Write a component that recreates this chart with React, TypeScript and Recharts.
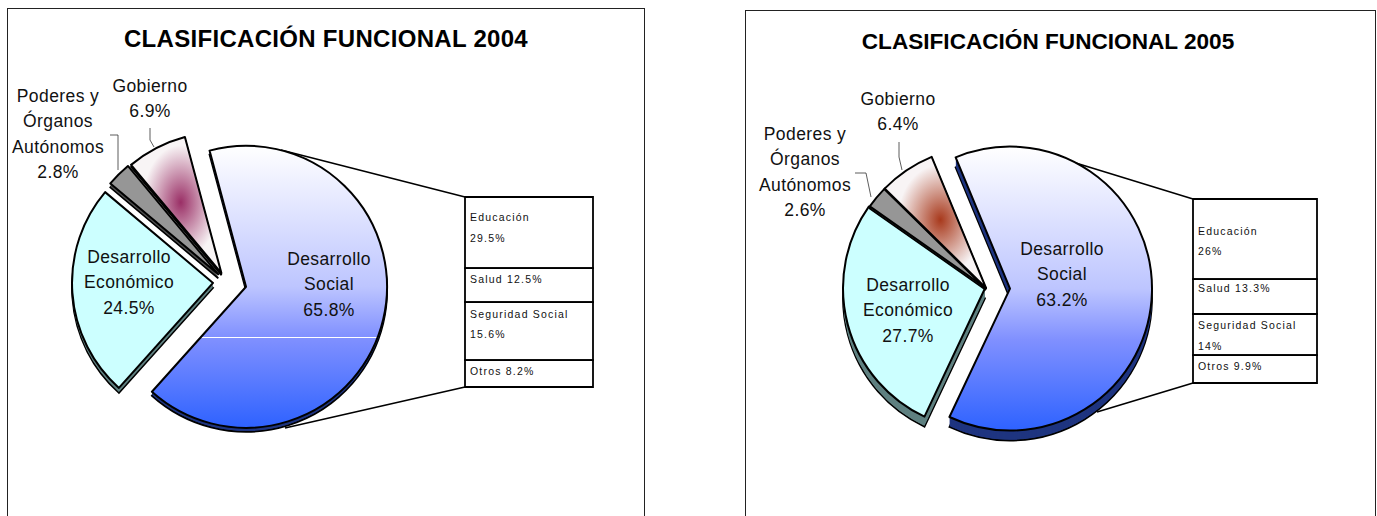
import { PieChart, Pie, Sector, BarChart, Bar, XAxis, YAxis } from "recharts";

const categorias = ["Desarrollo Social", "Desarrollo Económico", "Poderes y Órganos Autónomos", "Gobierno"];
const etiquetas = [["Desarrollo", "Social"], ["Desarrollo", "Económico"], ["Poderes y", "Órganos", "Autónomos"], ["Gobierno"]];
const valores2004 = [65.8, 24.5, 2.8, 6.9];
const valores2005 = [63.2, 27.7, 2.6, 6.4];

const rubros = ["Educación", "Salud", "Seguridad Social", "Otros"];
const rubros2004 = [29.5, 12.5, 15.6, 8.2];
const rubros2005 = [26, 13.3, 14, 9.9];
// alto de cada tramo de la columna (no es proporcional a la etiqueta)
const tramos2004 = [24.6, 11.8, 20.1, 9.3];
const tramos2005 = [27.5, 12, 14.1, 9.6];

const FONT = "'Liberation Sans', Arial, sans-serif";
const DARK = ["#1f3580", "#5f8080", "#4c4c4c", "#333333"];

const PANELS = [
    {
        id: "a", left: 0, frameX: 8, frameY: 9, frameW: 638,
        titulo: "CLASIFICACIÓN FUNCIONAL 2004", titleX: 326, titleY: 47, titleSize: 24, titleSpacing: 0.3,
        valores: valores2004, rubros: rubros2004, tramos: tramos2004,
        cx: 226, cy: 282, radius: 141, startAngle: 105,
        explode: [20.6, 13, 11, 10], depth: [4, 5, 4, 2],
        centro: "#9a2f66", whiteLine: true,
        labels: [
            { x: 329, y: 265 }, { x: 129, y: 263 }, { x: 58, y: 102 }, { x: 150, y: 92 },
        ],
        leaders: ["281,150 465,197", "285,428 465,387"],
        thin: ["150,128 150,140 154,147", "110,135 118,135 118,170"],
        box: { x: 465, y: 197, w: 128, h: 190 },
        textOffsets: [[24, 45], [15], [16, 36], [15]],
    },
    {
        id: "b", left: 737, frameX: 9, frameY: 11, frameW: 631,
        titulo: "CLASIFICACIÓN FUNCIONAL 2005", titleX: 311, titleY: 49, titleSize: 22.6, titleSpacing: 0,
        valores: valores2005, rubros: rubros2005, tramos: tramos2005,
        cx: 249, cy: 288, radius: 142, startAngle: 112.5,
        explode: [24, 1, 0, 0], depth: [10, 10, 2, 1],
        centro: "#a8391c", whiteLine: false,
        labels: [
            { x: 325, y: 255 }, { x: 171, y: 291 }, { x: 68, y: 140 }, { x: 161, y: 105 },
        ],
        leaders: ["303,152 456,199", "360,412 456,383"],
        thin: ["162,142 162,157 165,170", "118,173 129,173 134,197"],
        box: { x: 456, y: 199, w: 124, h: 184 },
        textOffsets: [[36, 56], [13], [15, 36], [15]],
    },
];

type Panel = (typeof PANELS)[number];

function ExplodedSlice(props: any, panel: Panel) {
    const i = props.payload?.i ?? props.i ?? 0;
    const rad = (props.midAngle * Math.PI) / 180;
    const cx = props.cx + panel.explode[i] * Math.cos(rad);
    const cy = props.cy - panel.explode[i] * Math.sin(rad);
    const base = {
        innerRadius: 0,
        outerRadius: props.outerRadius,
        startAngle: props.startAngle,
        endAngle: props.endAngle,
    };
    const fills = [`url(#social-${panel.id})`, "#ccffff", "#969696", `url(#gob-${panel.id})`];
    const layers = [];
    for (let d = panel.depth[i]; d > 0; d--) {
        layers.push(
            <Sector key={d} {...base} cx={cx} cy={cy + d} fill={DARK[i]}
                stroke={d === panel.depth[i] ? "#000" : "none"} strokeWidth={1.8} />
        );
    }
    return (
        <g>
            {layers}
            <Sector {...base} cx={cx} cy={cy} fill={fills[i]} stroke="#000" strokeWidth={2} strokeLinejoin="round" />
        </g>
    );
}

function SliceLabel(props: any, panel: Panel) {
    const i = props.payload?.i ?? props.i ?? props.index ?? 0;
    const pos = panel.labels[i];
    const lines = [...etiquetas[i], `${panel.valores[i]}%`];
    return (
        <text key={i} x={pos.x} y={pos.y} textAnchor="middle" fontFamily={FONT} fontSize={17.5} letterSpacing={0.4} fill="#111">
            {lines.map((l, k) => (
                <tspan key={k} x={pos.x} dy={k === 0 ? 0 : 25.3}>{l}</tspan>
            ))}
        </text>
    );
}

function BoxLabel(props: any, panel: Panel, r: number) {
    const offs = panel.textOffsets[r];
    const x = props.x + 5;
    // con el eje invertido la barra llega con alto negativo
    const top = Math.min(props.y, props.y + props.height);
    const txt = offs.length === 2
        ? [rubros[r], `${panel.rubros[r]}%`]
        : [`${rubros[r]} ${panel.rubros[r]}%`];
    return (
        <text key={r} fontFamily={FONT} fontSize={10.5} letterSpacing={1.2} fill="#111">
            {txt.map((t, k) => (
                <tspan key={k} x={x} y={top + offs[k]}>{t}</tspan>
            ))}
        </text>
    );
}

function ClasificacionPanel({ panel }: { panel: Panel }) {
    const data = categorias.map((name, i) => ({ name, valor: panel.valores[i], i }));
    const columna = [
        Object.fromEntries([["name", "total"], ...rubros.map((r, i) => [r, panel.tramos[i]])]),
    ];
    const total = panel.tramos.reduce((a, b) => a + b, 0);
    const W = 640;
    const H = 516;
    return (
        <div style={{ position: "absolute", left: panel.left, top: 0, width: W, height: H }}>
            <div
                style={{
                    position: "absolute", left: panel.frameX - 1, top: panel.frameY - 1, width: panel.frameW,
                    height: 560, border: "1px solid #222", boxSizing: "border-box",
                }}
            />
            <div style={{ position: "absolute", left: 0, top: 0 }}>
                <PieChart width={W} height={H} margin={{ top: 0, right: 0, bottom: 0, left: 0 }}>
                    <defs>
                        <linearGradient id={`social-${panel.id}`} x1="0" y1="0" x2="0" y2="1">
                            <stop offset="0" stopColor="#ffffff" />
                            <stop offset="0.5" stopColor="#bdc5ff" />
                            {panel.whiteLine && <stop offset="0.678" stopColor="#8090ff" />}
                            {panel.whiteLine && <stop offset="0.678" stopColor="#ffffff" />}
                            {panel.whiteLine && <stop offset="0.683" stopColor="#ffffff" />}
                            <stop offset={panel.whiteLine ? "0.683" : "0.68"} stopColor="#8090ff" />
                            <stop offset="1" stopColor="#2e62ff" />
                        </linearGradient>
                        <radialGradient id={`gob-${panel.id}`} cx="0.55" cy="0.48" r="0.42">
                            <stop offset="0" stopColor={panel.centro} />
                            <stop offset="1" stopColor="#f8f4f5" />
                        </radialGradient>
                    </defs>
                    <text x={panel.titleX} y={panel.titleY} textAnchor="middle" fontFamily={FONT} fontWeight="bold"
                        fontSize={panel.titleSize} letterSpacing={panel.titleSpacing} fill="#000">
                        {panel.titulo}
                    </text>
                    {panel.leaders.map((p) => (
                        <polyline key={p} points={p} fill="none" stroke="#000" strokeWidth={1.6} />
                    ))}
                    {panel.thin.map((p) => (
                        <polyline key={p} points={p} fill="none" stroke="#333" strokeWidth={0.8} />
                    ))}
                    <Pie
                        data={data}
                        dataKey="valor"
                        nameKey="name"
                        cx={panel.cx}
                        cy={panel.cy}
                        outerRadius={panel.radius}
                        startAngle={panel.startAngle}
                        endAngle={panel.startAngle - 360}
                        isAnimationActive={false}
                        labelLine={false}
                        label={(p: any) => SliceLabel(p, panel)}
                        shape={(p: any) => ExplodedSlice(p, panel)}
                    />
                </PieChart>
            </div>
            <div style={{ position: "absolute", left: panel.box.x - 2, top: panel.box.y - 2 }}>
                <BarChart
                    width={panel.box.w + 4}
                    height={panel.box.h + 4}
                    data={columna}
                    margin={{ top: 2, right: 2, bottom: 2, left: 2 }}
                    barCategoryGap={0}
                >
                    <XAxis dataKey="name" hide />
                    <YAxis hide reversed domain={[0, total]} />
                    {rubros.map((r, i) => (
                        <Bar
                            key={r}
                            dataKey={r}
                            stackId="desglose"
                            fill="#ffffff"
                            stroke="#000"
                            strokeWidth={1.8}
                            isAnimationActive={false}
                            label={(p: any) => BoxLabel(p, panel, i)}
                        />
                    ))}
                </BarChart>
            </div>
        </div>
    );
}

export default function App() {
    return (
        <div style={{ position: "fixed", left: 0, top: 0, width: 1377, height: 516, overflow: "hidden", background: "#fff" }}>
            {PANELS.map((p) => (
                <ClasificacionPanel key={p.id} panel={p} />
            ))}
        </div>
    );
}
